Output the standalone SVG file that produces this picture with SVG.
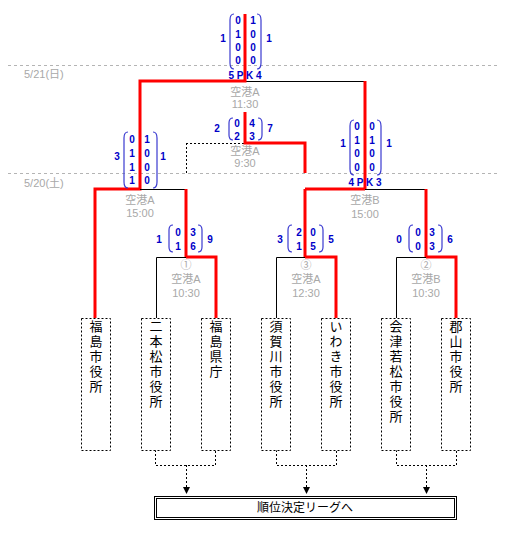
<svg xmlns="http://www.w3.org/2000/svg" width="507" height="541" viewBox="0 0 507 541">
<defs>
<style>
.red{stroke:#ff0000;stroke-width:3;fill:none}
.blk{stroke:#000;stroke-width:1;fill:none}
.dsh{stroke:#000;stroke-width:1;fill:none;stroke-dasharray:2,2}
.date{stroke:#b4b4b4;stroke-width:1;stroke-dasharray:3,3}
.par{stroke:#3a3ad0;stroke-width:1.2;fill:none}
.sc{font-family:"Liberation Sans",Arial,sans-serif;font-weight:bold;font-size:10px;fill:#0000c8;text-anchor:middle}
.lbl{font-family:"Liberation Sans","Noto Sans CJK JP",sans-serif;font-size:11px;fill:#a8a8a8;text-anchor:middle}
.dt{font-family:"Liberation Sans","Noto Sans CJK JP",sans-serif;font-size:11px;fill:#a8a8a8}
.team{font-family:"Noto Sans CJK JP",sans-serif;font-size:13px;fill:#000;writing-mode:vertical-rl;letter-spacing:2px}
.box{fill:#fff;stroke:#000;stroke-width:1;stroke-dasharray:2,2}
</style>
</defs>
<rect width="507" height="541" fill="#fff"/>
<g id="dates">
<line class="date" x1="8" y1="65.5" x2="500" y2="65.5"/>
<line class="date" x1="8" y1="173.5" x2="500" y2="173.5"/>
<text class="dt" x="24" y="78">5/21(日)</text>
<text class="dt" x="24" y="187">5/20(土)</text>
</g>
<g id="connectors">
<line class="blk" x1="245" y1="81.5" x2="365" y2="81.5"/>
<polyline class="red" points="245,14 245,81 140,81 140,189 95,189 95,318"/>
<line class="red" x1="365" y1="81" x2="365" y2="189"/>
<line class="dsh" x1="186" y1="143.5" x2="245" y2="143.5"/>
<line class="dsh" x1="186.5" y1="143" x2="186.5" y2="173"/>
<polyline class="red" points="245,112 245,143 305,143 305,173"/>
<line class="blk" x1="140" y1="189.5" x2="186" y2="189.5"/>
<line class="red" x1="186" y1="189" x2="186" y2="257"/>
<line class="red" x1="305" y1="189" x2="365" y2="189"/>
<line class="blk" x1="365" y1="189.5" x2="426" y2="189.5"/>
<line class="red" x1="305" y1="189" x2="305" y2="257"/>
<line class="red" x1="426" y1="189" x2="426" y2="257"/>
<polyline class="blk" points="186,257.5 156.5,257.5 156.5,318"/>
<polyline class="red" points="186,257 216,257 216,318"/>
<polyline class="blk" points="305,257.5 276.5,257.5 276.5,318"/>
<polyline class="red" points="305,257 336,257 336,318"/>
<polyline class="blk" points="426,257.5 396.5,257.5 396.5,318"/>
<polyline class="red" points="426,257 456,257 456,318"/>
<polyline class="dsh" points="155.5,450 155.5,465.5 215.5,465.5 215.5,450"/>
<line class="dsh" x1="186.5" y1="465" x2="186.5" y2="488"/>
<polyline class="dsh" points="276.5,450 276.5,465.5 336.5,465.5 336.5,450"/>
<line class="dsh" x1="306.5" y1="465" x2="306.5" y2="488"/>
<polyline class="dsh" points="396.5,450 396.5,465.5 456.5,465.5 456.5,450"/>
<line class="dsh" x1="426.5" y1="465" x2="426.5" y2="488"/>
<polygon points="183,487 190,487 186.5,494" fill="#000"/>
<polygon points="303,487 310,487 306.5,494" fill="#000"/>
<polygon points="423,487 430,487 426.5,494" fill="#000"/>
</g>
<g id="score-final">
<path class="par" d="M234,14 Q230,14 230,20 L230,63 Q230,69 234,69"/>
<path class="par" d="M257,14 Q261,14 261,20 L261,63 Q261,69 257,69"/>
<text class="sc" x="238" y="24">0</text><text class="sc" x="253" y="24">1</text>
<text class="sc" x="238" y="38">1</text><text class="sc" x="253" y="38">0</text>
<text class="sc" x="238" y="51">0</text><text class="sc" x="253" y="51">0</text>
<text class="sc" x="238" y="64">0</text><text class="sc" x="253" y="64">0</text>
<text class="sc" x="223" y="42">1</text><text class="sc" x="269" y="42">1</text>
<text class="sc" x="245" y="79">5 P K 4</text>
<text class="lbl" x="245" y="96">空港A</text>
<text class="lbl" x="245" y="108">11:30</text>
</g>
<g id="score-930">
<path class="par" d="M233,118 Q229,118 229,123 L229,135 Q229,140 233,140"/>
<path class="par" d="M258,118 Q262,118 262,123 L262,135 Q262,140 258,140"/>
<text class="sc" x="237" y="127">0</text><text class="sc" x="252" y="127">4</text>
<text class="sc" x="237" y="140">2</text><text class="sc" x="252" y="140">3</text>
<text class="sc" x="217" y="132">2</text><text class="sc" x="270" y="132">7</text>
<text class="lbl" x="245" y="155">空港A</text>
<text class="lbl" x="245" y="167">9:30</text>
</g>
<g id="score-semiA">
<path class="par" d="M128,132 Q124,132 124,138 L124,182 Q124,188 128,188"/>
<path class="par" d="M153,132 Q157,132 157,138 L157,182 Q157,188 153,188"/>
<text class="sc" x="132" y="143">0</text><text class="sc" x="147" y="143">1</text>
<text class="sc" x="132" y="157">1</text><text class="sc" x="147" y="157">0</text>
<text class="sc" x="132" y="171">1</text><text class="sc" x="147" y="171">0</text>
<text class="sc" x="132" y="184">1</text><text class="sc" x="147" y="184">0</text>
<text class="sc" x="117" y="160">3</text><text class="sc" x="163" y="160">1</text>
<text class="lbl" x="140" y="204">空港A</text>
<text class="lbl" x="140" y="217">15:00</text>
</g>
<g id="score-semiB">
<path class="par" d="M354,120 Q350,120 350,126 L350,169 Q350,175 354,175"/>
<path class="par" d="M377,120 Q381,120 381,126 L381,169 Q381,175 377,175"/>
<text class="sc" x="357" y="130">0</text><text class="sc" x="372" y="130">0</text>
<text class="sc" x="357" y="144">1</text><text class="sc" x="372" y="144">1</text>
<text class="sc" x="357" y="157">0</text><text class="sc" x="372" y="157">0</text>
<text class="sc" x="357" y="171">0</text><text class="sc" x="372" y="171">0</text>
<text class="sc" x="343" y="147">1</text><text class="sc" x="389" y="147">1</text>
<text class="sc" x="365" y="186">4 P K 3</text>
<text class="lbl" x="365" y="204">空港B</text>
<text class="lbl" x="365" y="218">15:00</text>
</g>
<g id="score-qf1">
<path class="par" d="M173,225 Q169,225 169,230 L169,247 Q169,252 173,252"/>
<path class="par" d="M198,225 Q202,225 202,230 L202,247 Q202,252 198,252"/>
<text class="sc" x="178" y="236">0</text><text class="sc" x="193" y="236">3</text>
<text class="sc" x="178" y="250">1</text><text class="sc" x="193" y="250">6</text>
<text class="sc" x="159" y="243">1</text><text class="sc" x="210" y="243">9</text>
<text class="lbl" x="186" y="269">①</text>
<text class="lbl" x="186" y="283">空港A</text>
<text class="lbl" x="186" y="297">10:30</text>
</g>
<g id="score-qf3">
<path class="par" d="M292,225 Q288,225 288,230 L288,247 Q288,252 292,252"/>
<path class="par" d="M319,225 Q323,225 323,230 L323,247 Q323,252 319,252"/>
<text class="sc" x="299" y="236">2</text><text class="sc" x="313" y="236">0</text>
<text class="sc" x="299" y="250">1</text><text class="sc" x="313" y="250">5</text>
<text class="sc" x="280" y="243">3</text><text class="sc" x="331" y="243">5</text>
<text class="lbl" x="306" y="269">③</text>
<text class="lbl" x="306" y="283">空港A</text>
<text class="lbl" x="306" y="297">12:30</text>
</g>
<g id="score-qf2">
<path class="par" d="M413,225 Q409,225 409,230 L409,247 Q409,252 413,252"/>
<path class="par" d="M438,225 Q442,225 442,230 L442,247 Q442,252 438,252"/>
<text class="sc" x="418" y="236">0</text><text class="sc" x="432" y="236">3</text>
<text class="sc" x="418" y="250">0</text><text class="sc" x="432" y="250">3</text>
<text class="sc" x="399" y="243">0</text><text class="sc" x="450" y="243">6</text>
<text class="lbl" x="426" y="269">②</text>
<text class="lbl" x="426" y="283">空港B</text>
<text class="lbl" x="426" y="297">10:30</text>
</g>
<g id="team1"><rect class="box" x="81.5" y="318.5" width="29" height="132"/>
<text class="team" x="96" y="320">福島市役所</text></g>
<g id="team2"><rect class="box" x="141.5" y="318.5" width="29" height="132"/>
<text class="team" x="156" y="320">二本松市役所</text></g>
<g id="team3"><rect class="box" x="201.5" y="318.5" width="29" height="132"/>
<text class="team" x="216" y="320">福島県庁</text></g>
<g id="team4"><rect class="box" x="261.5" y="318.5" width="29" height="132"/>
<text class="team" x="276" y="320">須賀川市役所</text></g>
<g id="team5"><rect class="box" x="321.5" y="318.5" width="29" height="132"/>
<text class="team" x="336" y="320">いわき市役所</text></g>
<g id="team6"><rect class="box" x="381.5" y="318.5" width="29" height="132"/>
<text class="team" x="396" y="320">会津若松市役所</text></g>
<g id="team7"><rect class="box" x="441.5" y="318.5" width="29" height="132"/>
<text class="team" x="456" y="320">郡山市役所</text></g>
<g id="league">
<rect x="154.5" y="496.5" width="302" height="23" fill="#fff" stroke="#000"/>
<rect x="156.5" y="498.5" width="298" height="19" fill="none" stroke="#000"/>
<text x="305" y="512" font-family="'Noto Sans CJK JP',sans-serif" font-size="12" text-anchor="middle" fill="#000">順位決定リーグへ</text>
</g>
</svg>
